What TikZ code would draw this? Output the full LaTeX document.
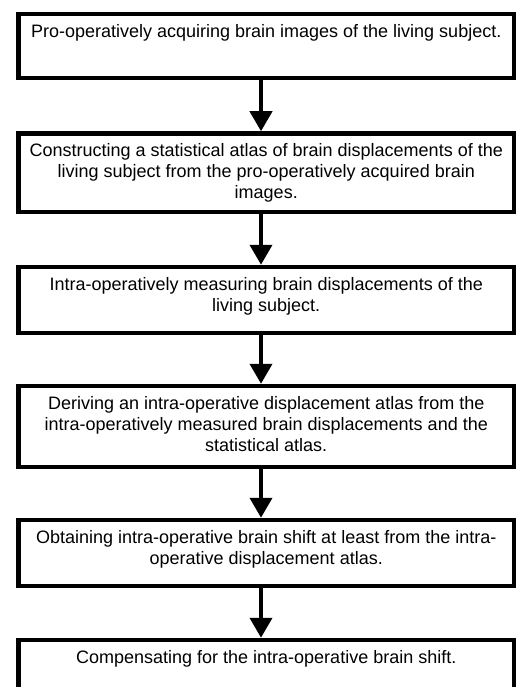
\documentclass[tikz,border=0pt]{standalone}
\usepackage{fontspec}
\setmainfont{Liberation Sans}
\usetikzlibrary{arrows.meta}
\begin{document}
\begin{tikzpicture}[x=1pt,y=1pt,
  stepbox/.style={draw, line width=4.5pt, inner sep=0pt, outer sep=2.25pt, minimum width=495.5pt},
  steptext/.style={anchor=north, inner sep=0pt, align=center, font=\fontsize{18}{21}\selectfont},
  flow/.style={line width=4pt, -{Triangle[width=22pt,length=20pt]}}]
\useasboundingbox (0,0) rectangle (520,-687);
\coordinate (ax) at (261,0);
\node[stepbox, minimum height=64pt]   (b1) at (266.25,-46) {};
\node[stepbox, minimum height=78.5pt] (b2) at (266.25,-172.75) {};
\node[stepbox, minimum height=66pt]   (b3) at (266.25,-300) {};
\node[stepbox, minimum height=81pt]   (b4) at (266.25,-426.5) {};
\node[stepbox, minimum height=66pt]   (b5) at (266.25,-553) {};
\node[stepbox, minimum height=80pt]   (b6) at (266.25,-680) {};
\node[steptext] (t1) at ([yshift=-12.25pt]b1.north) {Pro-operatively acquiring brain images of the living subject.};
\node[steptext] (t2) at ([yshift=-12.25pt]b2.north) {Constructing a statistical atlas of brain displacements of the\\living subject from the pro-operatively acquired brain\\images.};
\node[steptext] (t3) at ([yshift=-12.25pt]b3.north) {Intra-operatively measuring brain displacements of the\\living subject.};
\node[steptext] (t4) at ([yshift=-12.25pt]b4.north) {Deriving an intra-operative displacement atlas from the\\intra-operatively measured brain displacements and the\\statistical atlas.};
\node[steptext] (t5) at ([yshift=-12.25pt]b5.north) {Obtaining intra-operative brain shift at least from the intra-\\operative displacement atlas.};
\node[steptext] (t6) at ([yshift=-12.25pt]b6.north) {Compensating for the intra-operative brain shift.};
\draw[flow] (b1.south -| ax) -- (b2.north -| ax);
\draw[flow] (b2.south -| ax) -- (b3.north -| ax);
\draw[flow] (b3.south -| ax) -- (b4.north -| ax);
\draw[flow] (b4.south -| ax) -- (b5.north -| ax);
\draw[flow] (b5.south -| ax) -- (b6.north -| ax);
\end{tikzpicture}
\end{document}
